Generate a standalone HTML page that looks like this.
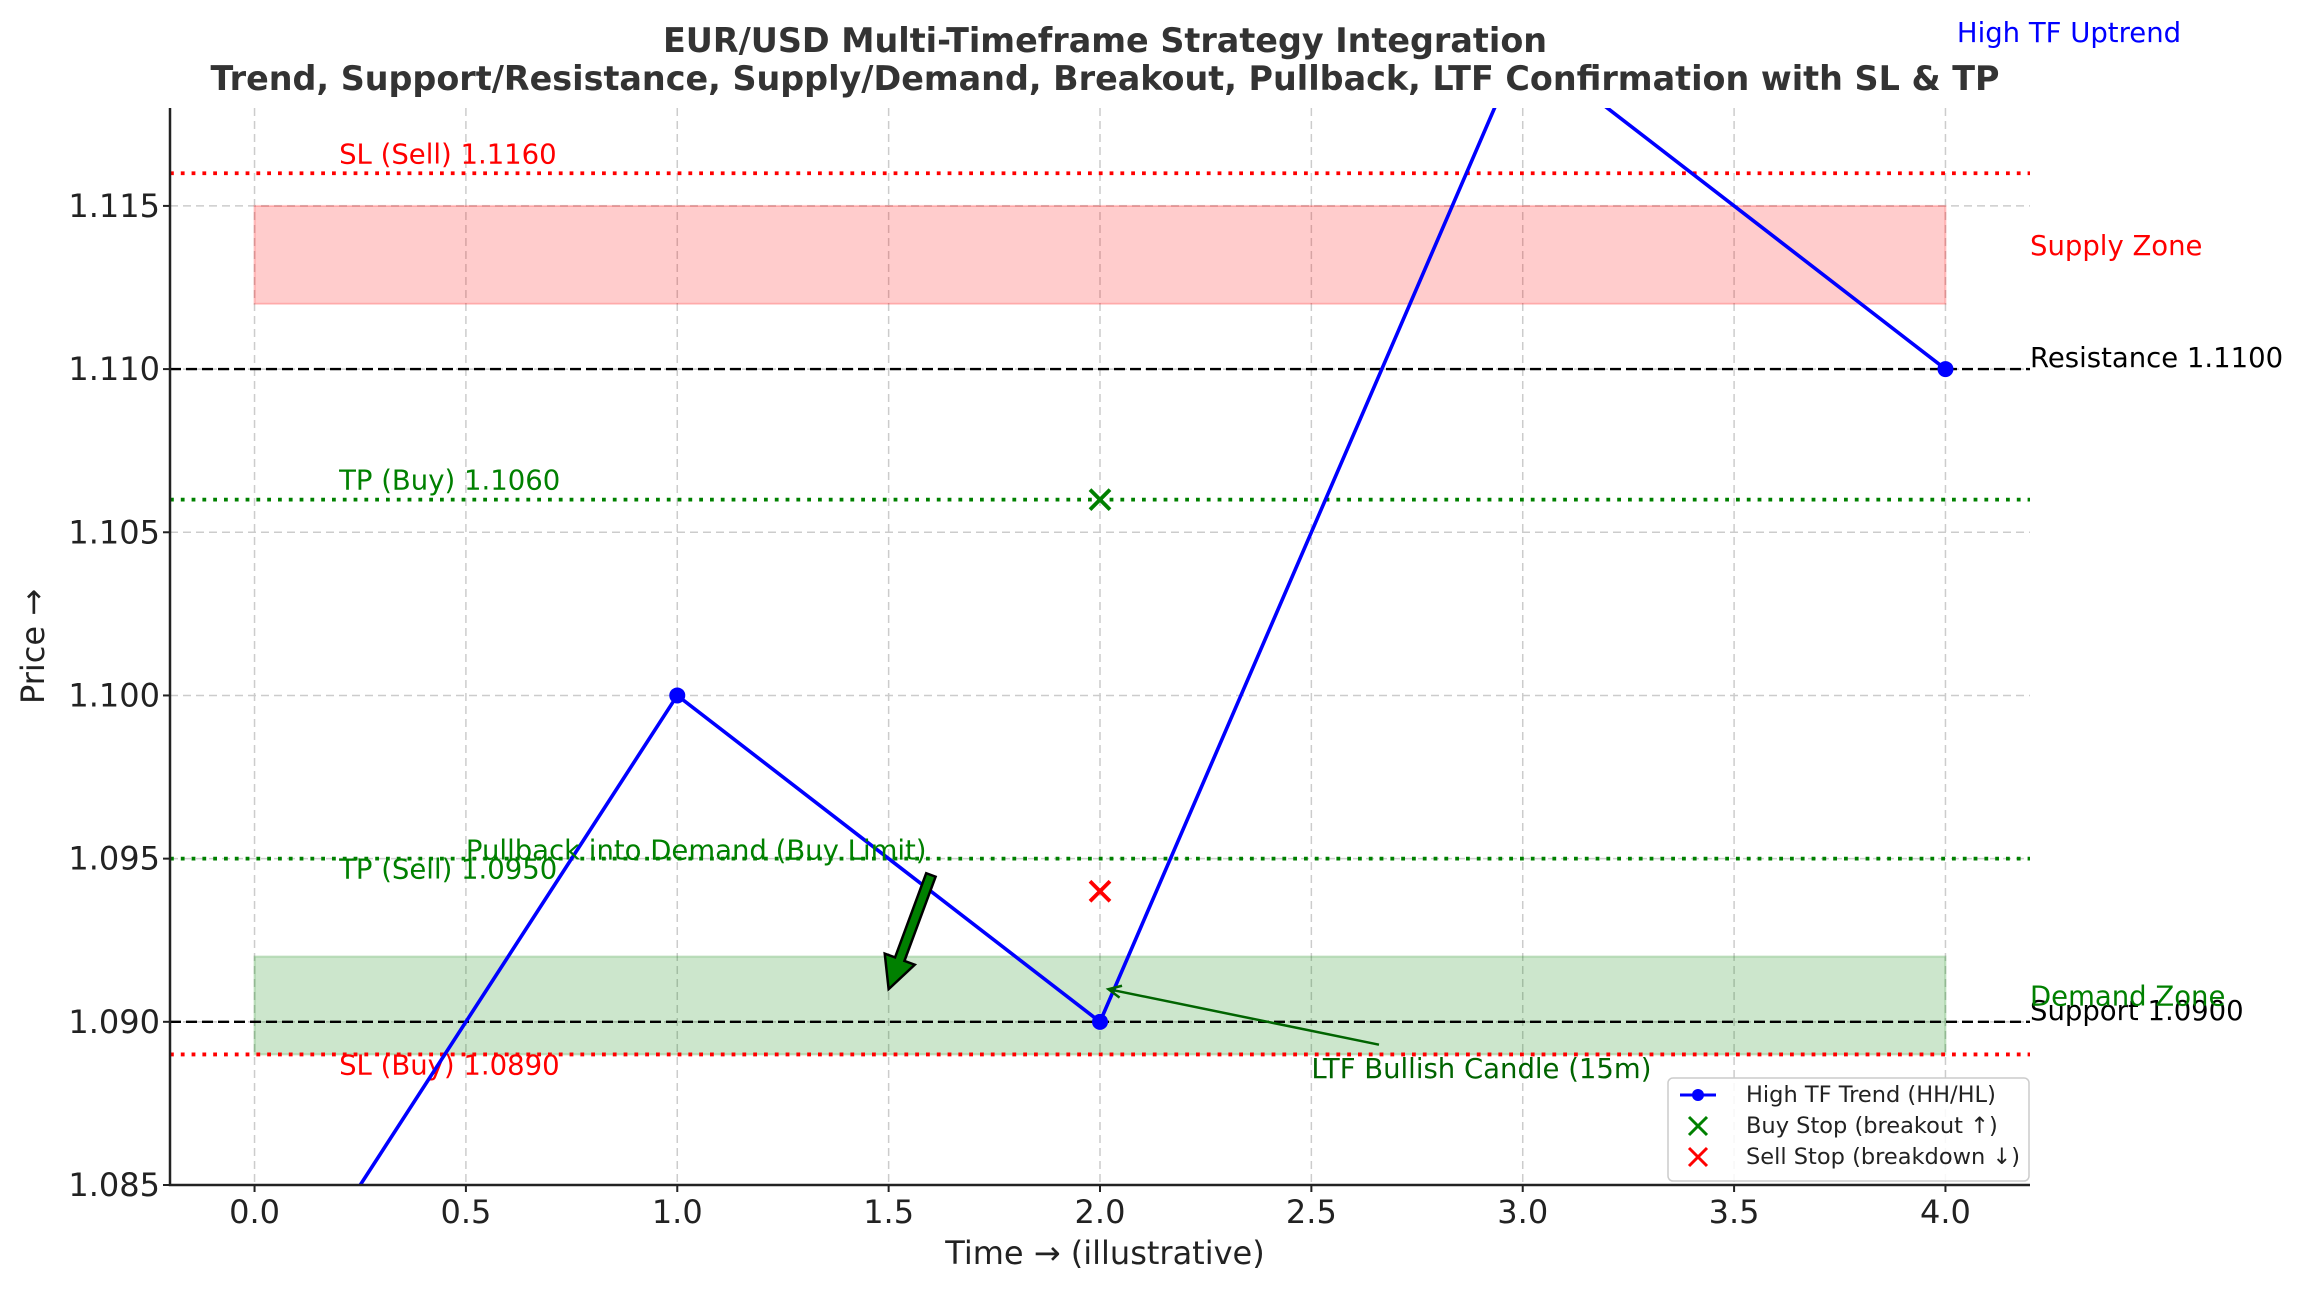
<!DOCTYPE html>
<html><head><meta charset="utf-8"><style>
html,body{margin:0;padding:0;background:#fff;}
svg{display:block;font-family:"DejaVu Sans","Liberation Sans",sans-serif;}
</style></head><body>
<svg id="chart" width="2305" height="1292" viewBox="0 0 2305 1292">
<text x="1105" y="52" text-anchor="middle" font-size="33.4" font-weight="bold" fill="#333">EUR/USD Multi-Timeframe Strategy Integration</text>
<text x="1105" y="90" text-anchor="middle" font-size="33.4" font-weight="bold" fill="#333">Trend, Support/Resistance, Supply/Demand, Breakout, Pullback, LTF Confirmation with SL &amp; TP</text>
<g id="plot"></g>
</svg>
<script>
const trendX = [0, 1, 2, 3, 4];
const trendY = [1.080, 1.100, 1.090, 1.120, 1.110];
const xTicks = [0, 0.5, 1, 1.5, 2, 2.5, 3, 3.5, 4];
const yTicks = [1.085, 1.090, 1.095, 1.100, 1.105, 1.110, 1.115];
const levelNames = ["SL (Sell)", "TP (Buy)", "TP (Sell)", "SL (Buy)"];
const levelValues = [1.116, 1.106, 1.095, 1.089];
const levelColors = ["red", "green", "green", "red"];
const srNames = ["Resistance", "Support"];
const srValues = [1.110, 1.090];
const supplyZone = [1.112, 1.115];
const demandZone = [1.089, 1.092];
const buyStop = [2, 1.106];
const sellStop = [2, 1.094];

const L=170,R=2030,T=108,B=1185;
const xmin=-0.2,xmax=4.2,ymin=1.085,ymax=1.118;
const X=v=>L+(v-xmin)/(xmax-xmin)*(R-L);
const Y=v=>B-(v-ymin)/(ymax-ymin)*(B-T);
const NS="http://www.w3.org/2000/svg";
const g=document.getElementById('plot');
function mk(tag,attrs,parent){const e=document.createElementNS(NS,tag);for(const k in attrs)e.setAttribute(k,attrs[k]);(parent||g).appendChild(e);return e;}
function txt(x,y,s,attrs){const e=mk('text',Object.assign({x:x,y:y,'font-size':27.5},attrs||{}));e.textContent=s;return e;}

const defs=mk('defs',{});
const cp=mk('clipPath',{id:'clip'},defs);mk('rect',{x:L,y:T,width:R-L,height:B-T},cp);

xTicks.forEach(t=>{const l=mk('line',{x1:X(t),x2:X(t),y1:T,y2:B,stroke:'#ccc','stroke-width':1.5,'stroke-dasharray':'8,5'});

});
yTicks.forEach(t=>{const l=mk('line',{x1:L,x2:R,y1:Y(t),y2:Y(t),stroke:'#ccc','stroke-width':1.5,'stroke-dasharray':'8,5'});

});

let z=mk('rect',{x:X(0),y:Y(supplyZone[1]),width:X(4)-X(0),height:Y(supplyZone[0])-Y(supplyZone[1]),fill:'rgba(255,0,0,0.2)',stroke:'rgba(255,0,0,0.2)','stroke-width':2});


z=mk('rect',{x:X(0),y:Y(demandZone[1]),width:X(4)-X(0),height:Y(demandZone[0])-Y(demandZone[1]),fill:'rgba(0,128,0,0.2)',stroke:'rgba(0,128,0,0.2)','stroke-width':2});



srValues.forEach((v,i)=>{const l=mk('line',{x1:L,x2:R,y1:Y(v),y2:Y(v),stroke:'#000','stroke-width':2.4,'stroke-dasharray':'11,5'});


const t=txt(R,Y(v)-2,srNames[i]+' '+v.toFixed(4),{fill:'#000'});

});

levelValues.forEach((v,i)=>{const l=mk('line',{x1:L,x2:R,y1:Y(v),y2:Y(v),stroke:levelColors[i],'stroke-width':3.8,'stroke-dasharray':'3.8,7'});


const above=(i<2);
const t=txt(X(0.2),above?Y(v)-10:Y(v)+20,levelNames[i]+' '+v.toFixed(4),{fill:levelColors[i]});

});

const pts=trendX.map((x,i)=>X(x)+','+Y(trendY[i])).join(' ');
const pl=mk('polyline',{points:pts,fill:'none',stroke:'blue','stroke-width':3.6,'clip-path':'url(#clip)'});


trendX.forEach((x,i)=>{const c=mk('circle',{cx:X(x),cy:Y(trendY[i]),r:8,fill:'blue','clip-path':'url(#clip)'});

});

function xmark(p,color,name){const cx=X(p[0]),cy=Y(p[1]),s=10;
const gg=mk('g',{stroke:color,'stroke-width':3.8});


mk('line',{x1:cx-s,y1:cy-s,x2:cx+s,y2:cy+s},gg);mk('line',{x1:cx-s,y1:cy+s,x2:cx+s,y2:cy-s},gg);}
xmark(buyStop,'green','buy-stop-marker');
xmark(sellStop,'red','sell-stop-marker');

let t=txt(X(0.5),Y(1.095)+1,'Pullback into Demand (Buy Limit)',{fill:'green'});


(function(){const x1=X(1.6),y1=Y(1.0945),x2=X(1.5),y2=Y(1.091);
const dx=x2-x1,dy=y2-y1,len=Math.hypot(dx,dy),ux=dx/len,uy=dy/len,nx=-uy,ny=ux;
const hw=5,hh=16,hl=32;const bx=x2-ux*hl,by=y2-uy*hl;
const p=[[x1+nx*hw,y1+ny*hw],[bx+nx*hw,by+ny*hw],[bx+nx*hh,by+ny*hh],[x2,y2],[bx-nx*hh,by-ny*hh],[bx-nx*hw,by-ny*hw],[x1-nx*hw,y1-ny*hw]];
const a=mk('polygon',{points:p.map(q=>q.join(',')).join(' '),fill:'green',stroke:'#000','stroke-width':2.5});

})();
t=txt(X(2.5),Y(1.0885)+7,'LTF Bullish Candle (15m)',{fill:'darkgreen'});


(function(){const x1=X(2.66),y1=Y(1.0893),x2=X(2.02),y2=Y(1.091);
const gg=mk('g',{stroke:'darkgreen','stroke-width':2.5,fill:'none'});


mk('line',{x1:x1,y1:y1,x2:x2,y2:y2},gg);
const ang=Math.atan2(y1-y2,x1-x2);const s=14;
mk('polyline',{points:[[x2+s*Math.cos(ang+0.45),y2+s*Math.sin(ang+0.45)],[x2,y2],[x2+s*Math.cos(ang-0.45),y2+s*Math.sin(ang-0.45)]].map(q=>q.join(',')).join(' ')},gg);})();

t=txt(R,Y(1.1135),'Supply Zone',{fill:'red'});


t=txt(R,Y(1.0905)+0,'Demand Zone',{fill:'green'});


t=txt(2069,42,'High TF Uptrend',{fill:'blue','text-anchor':'middle'});



const sp=mk('path',{d:`M${L},${T}V${B}H${R}`,fill:'none',stroke:'#222','stroke-width':2.5});


xTicks.forEach(v=>{mk('line',{x1:X(v),x2:X(v),y1:B,y2:B+7,stroke:'#222','stroke-width':2});
const tt=txt(X(v),B+38,v.toFixed(1),{'text-anchor':'middle','font-size':32,fill:'#222'});

});
yTicks.forEach(v=>{mk('line',{x1:L-7,x2:L,y1:Y(v),y2:Y(v),stroke:'#222','stroke-width':2});
const tt=txt(L-10,Y(v)+11,v.toFixed(3),{'text-anchor':'end','font-size':32,fill:'#222'});

});
t=txt(1105,1264,'Time → (illustrative)',{'text-anchor':'middle','font-size':32,fill:'#222'});


t=txt(0,0,'Price →',{'text-anchor':'middle','font-size':32,fill:'#222',transform:`translate(44,${(T+B)/2}) rotate(-90)`});



const lg=mk('g',{});


mk('rect',{x:1668,y:1078,width:361,height:103,rx:5,fill:'rgba(255,255,255,0.85)',stroke:'#ccc','stroke-width':1.5},lg);
const le=[['High TF Trend (HH/HL)','line'],['Buy Stop (breakout ↑)','green'],['Sell Stop (breakdown ↓)','red']];
le.forEach((e,i)=>{const y=1095+i*31;
const eg=mk('g',{},lg);


if(e[1]==='line'){mk('line',{x1:1680,x2:1716,y1:y,y2:y,stroke:'blue','stroke-width':3},eg);mk('circle',{cx:1698,cy:y,r:6,fill:'blue'},eg);}
else{const s=9;mk('line',{x1:1698-s,y1:y-s,x2:1698+s,y2:y+s,stroke:e[1],'stroke-width':3},eg);mk('line',{x1:1698-s,y1:y+s,x2:1698+s,y2:y-s,stroke:e[1],'stroke-width':3},eg);}
const tx=txt(1746,y+7,e[0],{'font-size':22.5,fill:'#222'});eg.appendChild(tx);});
</script>
</body></html>
